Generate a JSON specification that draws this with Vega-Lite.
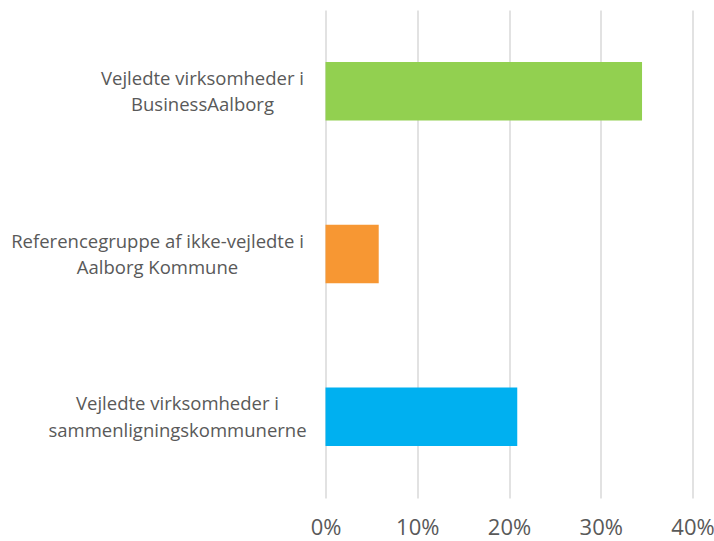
{
  "$schema": "https://vega.github.io/schema/vega-lite/v6.json",
  "autosize": {"type": "none"},
  "width": 367,
  "height": 488,
  "padding": {"left": 325.5, "top": 10, "right": 21.5, "bottom": 43},
  "background": "white",
  "config": {"view": {"stroke": null}},
  "data": {
    "values": [
      {"gruppe": "Vejledte virksomheder i|BusinessAalborg", "andel": 0.345},
      {"gruppe": "Referencegruppe af ikke-vejledte i|Aalborg Kommune", "andel": 0.058},
      {"gruppe": "Vejledte virksomheder i|sammenligningskommunerne", "andel": 0.209}
    ]
  },
  "mark": {"type": "bar"},
  "encoding": {
    "y": {
      "field": "gruppe",
      "type": "nominal",
      "sort": null,
      "scale": {"paddingInner": 0.64, "paddingOuter": 0.32},
      "axis": {
        "title": null,
        "domain": false,
        "ticks": false,
        "labelExpr": "split(datum.label, '|')",
        "labelAlign": "center",
        "labelBaseline": "middle",
        "labelOffset": -12.5,
        "labelPadding": {
          "condition": [
            {"test": "indexof(datum.value, 'BusinessAalborg') >= 0", "value": 123.5},
            {"test": "indexof(datum.value, 'Reference') >= 0", "value": 168.5}
          ],
          "value": 148.5
        },
        "labelFont": "Open Sans",
        "labelFontSize": 18.5,
        "labelColor": "#595959",
        "labelLineHeight": 26.5,
        "labelLimit": 400
      }
    },
    "x": {
      "field": "andel",
      "type": "quantitative",
      "scale": {"domain": [0, 0.4], "nice": false},
      "axis": {
        "title": null,
        "domain": false,
        "ticks": false,
        "values": [0, 0.1, 0.2, 0.3, 0.4],
        "format": ".0%",
        "labelFont": "Open Sans",
        "labelFontSize": 22,
        "labelColor": "#595959",
        "labelPadding": 19,
        "labelFlush": false,
        "grid": true,
        "gridColor": "#D9D9D9",
        "gridWidth": 1.5
      }
    },
    "color": {
      "field": "gruppe",
      "type": "nominal",
      "legend": null,
      "scale": {
        "domain": [
          "Vejledte virksomheder i|BusinessAalborg",
          "Referencegruppe af ikke-vejledte i|Aalborg Kommune",
          "Vejledte virksomheder i|sammenligningskommunerne"
        ],
        "range": ["#92D050", "#F79733", "#00B0F0"]
      }
    }
  }
}
